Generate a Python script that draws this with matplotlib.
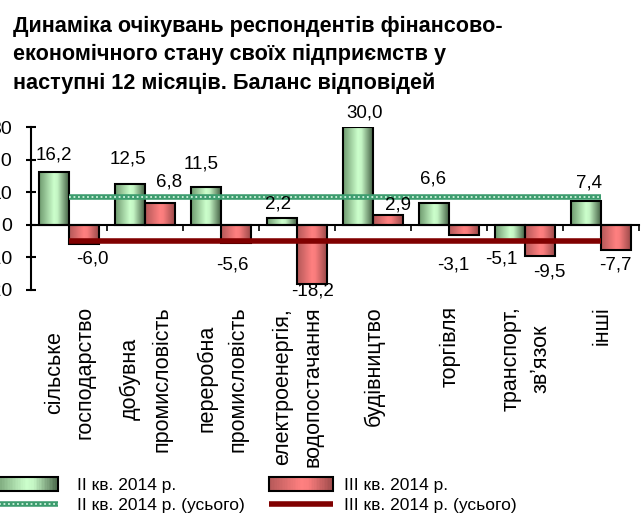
import numpy as np
import matplotlib
matplotlib.use('Agg')
import matplotlib.pyplot as plt
from matplotlib.colors import LinearSegmentedColormap
from matplotlib.patches import Rectangle
from matplotlib.lines import Line2D
from matplotlib.legend_handler import HandlerBase

plt.rcParams['font.family'] = ['Liberation Sans', 'DejaVu Sans']

# data
categories = ['сільське\nгосподарство', 'добувна\nпромисловість', 'переробна\nпромисловість',
              'електроенергія,\nводопостачання', 'будівництво', 'торгівля',
              'транспорт,\nзв\u02bcязок', 'інші']
q2_2014 = [16.2, 12.5, 11.5, 2.2, 30.0, 6.6, -5.1, 7.4]
q3_2014 = [-6.0, 6.8, -5.6, -18.2, 2.9, -3.1, -9.5, -7.7]
q2_total = 8.5
q3_total = -5.1
series_names = ['ІІ кв. 2014 р.', 'ІІІ кв. 2014 р.',
                'ІІ кв. 2014 р. (усього)', 'ІІІ кв. 2014 р. (усього)']
yticks = [-20, -10, 0, 10, 20, 30]
title = ('Динаміка очікувань респондентів фінансово-\n'
         'економічного стану своїх підприємств у\n'
         'наступні 12 місяців. Баланс відповідей')

# label offsets in pixels (hand placed like in the original)
q2_off = [(0, 17), (-2, 25), (-5, 23), (-4, 14), (6, 14), (-1, 24), (-9, -18), (3, 18)]
q3_off = [(9, -15), (9, 21), (-3, -22), (1, -7), (10, 10), (-11, -30), (9, -16), (0, -15)]

green_cmap = LinearSegmentedColormap.from_list('g', [(0, '#6f9a6f'), (0.5, '#ccffcc'), (0.62, '#c4f5c4'), (1, '#476447')])
red_cmap = LinearSegmentedColormap.from_list('r', [(0, '#b45858'), (0.5, '#ff8080'), (0.62, '#f87c7c'), (1, '#9c4a4a')])


def fill_gradient(ax, bars, cmap):
    grad = cmap(np.linspace(0, 1, 64))[np.newaxis, :, :3]
    for b in bars:
        x0, y0 = b.get_xy()
        w, h = b.get_width(), b.get_height()
        ax.imshow(grad, extent=(x0, x0 + w, min(y0, y0 + h), max(y0, y0 + h)),
                  aspect='auto', interpolation='bilinear', zorder=2)


class GradHandler(HandlerBase):
    def __init__(self, cmap):
        super().__init__()
        self.cmap = cmap

    def create_artists(self, legend, orig_handle, xdescent, ydescent, width, height, fontsize, trans):
        arts = []
        n = 40
        for k in range(n):
            arts.append(Rectangle((-xdescent + width * k / n, -ydescent), width / n * 1.1, height,
                                  facecolor=self.cmap((k + 0.5) / n), edgecolor='none', transform=trans))
        arts.append(Rectangle((-xdescent, -ydescent), width, height, facecolor='none',
                              edgecolor='black', lw=1.5, transform=trans))
        return arts


fig = plt.figure(figsize=(6.41, 5.13), dpi=100)
ax = fig.add_axes([31 / 641, (513 - 290) / 513, 608 / 641, 163 / 513])

x = np.arange(len(categories))
w = 0.39
b1 = ax.bar(x - w / 2, q2_2014, w, facecolor='none', edgecolor='black', lw=1.5, zorder=3)
b2 = ax.bar(x + w / 2, q3_2014, w, facecolor='none', edgecolor='black', lw=1.5, zorder=3)
fill_gradient(ax, b1, green_cmap)
fill_gradient(ax, b2, red_cmap)

# overall balance lines
ax.plot([x[0], x[-1]], [q2_total, q2_total], color='#3c9c6e', lw=4, solid_capstyle='butt', zorder=4)
ax.plot([x[0], x[-1]], [q2_total, q2_total], color='#d2f4e0', lw=1.3, ls=(0, (1, 1.5)),
        dash_capstyle='butt', zorder=4)
ax.plot([x[0], x[-1]], [q3_total, q3_total], color='#800000', lw=4, solid_capstyle='butt', zorder=4)

for i in range(len(x)):
    ax.annotate(f'{q2_2014[i]:.1f}'.replace('.', ','), (x[i] - w / 2, q2_2014[i]),
                xytext=q2_off[i], textcoords='offset pixels', ha='center', va='center',
                fontsize=13.5, zorder=5)
    ax.annotate(f'{q3_2014[i]:.1f}'.replace('.', ','), (x[i] + w / 2, q3_2014[i]),
                xytext=q3_off[i], textcoords='offset pixels', ha='center', va='center',
                fontsize=13.5, zorder=5, annotation_clip=False)

for i, c in enumerate(categories):
    ax.annotate(c, (x[i], 0), xycoords=('data', 'axes fraction'), xytext=(1, -16),
                textcoords='offset pixels', rotation=90, ha='center', va='top',
                multialignment='center', linespacing=1.6, fontsize=15.5)

ax.set_xlim(-0.5, len(x) - 0.5)
ax.set_ylim(-20, 30)
ax.set_yticks(yticks)
ax.set_yticklabels([str(t) for t in yticks], fontsize=14)
ax.set_xticks(np.arange(len(x) + 1) - 0.5)
ax.set_xticklabels([])
ax.tick_params(axis='y', direction='inout', length=7.5, width=1.5, pad=10)
ax.tick_params(axis='x', direction='out', length=4.5, width=1.2)
ax.spines['bottom'].set_position(('data', 0))
ax.spines['bottom'].set_linewidth(1.5)
ax.spines['left'].set_linewidth(1.5)
ax.spines['top'].set_visible(False)
ax.spines['right'].set_visible(False)

fig.text(13 / 641, 1 - 16 / 513, title, fontsize=15.6, fontweight='bold', ha='left', va='top',
         linespacing=1.45)

# legend
g_proxy = Rectangle((0, 0), 1, 1)
r_proxy = Rectangle((0, 0), 1, 1)
g_line = (Line2D([], [], color='#3c9c6e', lw=4, solid_capstyle='butt'),
          Line2D([], [], color='#d2f4e0', lw=1.3, ls=(0, (1, 1.5))))
r_line = Line2D([], [], color='#800000', lw=4, solid_capstyle='butt')
hmap = {g_proxy: GradHandler(green_cmap), r_proxy: GradHandler(red_cmap)}
common = dict(frameon=False, fontsize=12.5, handlelength=3.7, handleheight=0.85,
              labelspacing=0.25, borderpad=0, borderaxespad=0, loc='center left')
fig.legend([g_proxy, g_line], [series_names[0], series_names[2]], handler_map=hmap,
           bbox_to_anchor=(-6 / 641, 1 - 495 / 513), handletextpad=1.1, **common)
fig.legend([r_proxy, r_line], [series_names[1], series_names[3]], handler_map=hmap,
           bbox_to_anchor=(269 / 641, 1 - 495 / 513), handletextpad=0.6, **common)

fig.savefig('out.png', dpi=100)
